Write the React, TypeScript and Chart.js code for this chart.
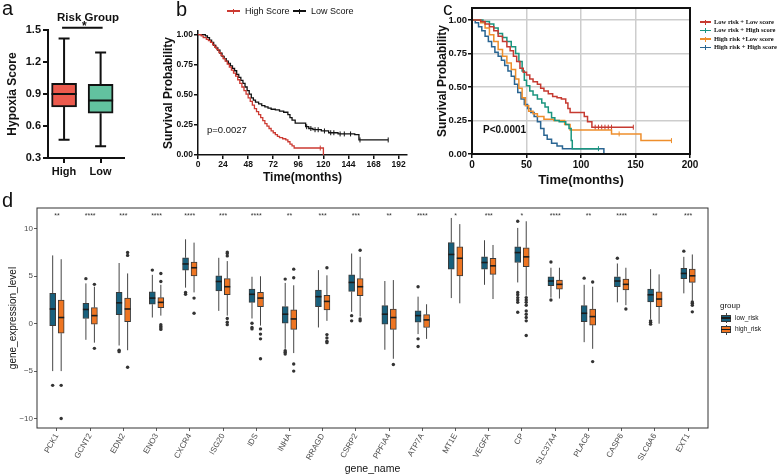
import React, { useEffect, useRef } from 'react';
import { Chart, registerables } from 'chart.js';

Chart.register(...registerables);

const SANS = "'Liberation Sans', Arial, Helvetica, sans-serif";
const SERIF = "'Liberation Serif', 'Times New Roman', serif";

// ---------------- Panel a: Hypoxia score by risk group ----------------
const riskGroups = ['High', 'Low'];
const hypoxiaMin = [0.47, 0.41];
const hypoxiaQ1 = [0.78, 0.72];
const hypoxiaMedian = [0.9, 0.84];
const hypoxiaQ3 = [1.0, 0.99];
const hypoxiaMax = [1.42, 1.29];
const hypoxiaTicks = [0.3, 0.6, 0.9, 1.2, 1.5];
const riskGroupColors = ['#EC5A4D', '#62C29F'];
const riskSigLevel = 1.52;

// ---------------- Panel b: KM by hypoxia score ----------------
const highScoreTime = [0, 3, 5, 8, 10, 12, 14, 16, 18, 20, 22, 24, 26, 28, 30, 32, 34, 36, 38, 40, 42, 44, 46, 48, 50, 52, 54, 56, 58, 60, 62, 64, 66, 68, 70, 72, 74, 76, 78, 81, 84, 86, 88, 90, 92, 120];
const highScoreSurv = [1, 0.99, 0.975, 0.96, 0.95, 0.935, 0.915, 0.895, 0.875, 0.85, 0.825, 0.80, 0.78, 0.755, 0.73, 0.705, 0.68, 0.655, 0.625, 0.595, 0.565, 0.535, 0.505, 0.475, 0.445, 0.415, 0.385, 0.36, 0.335, 0.31, 0.285, 0.26, 0.24, 0.22, 0.2, 0.185, 0.17, 0.155, 0.145, 0.135, 0.125, 0.11, 0.09, 0.075, 0.058, 0];
const highScoreCensorTime = [117];
const highScoreCensorSurv = [0.058];
const lowScoreTime = [0, 7, 9, 11, 13, 15, 17, 19, 21, 23, 25, 27, 29, 31, 33, 35, 37, 39, 41, 43, 45, 47, 49, 51, 53, 55, 58, 61, 64, 67, 70, 74, 78, 82, 86, 88, 90, 93, 103, 106, 110, 118, 125, 134, 150, 154, 182];
const lowScoreSurv = [1, 0.99, 0.975, 0.955, 0.935, 0.91, 0.89, 0.87, 0.845, 0.82, 0.8, 0.78, 0.76, 0.74, 0.72, 0.7, 0.67, 0.645, 0.62, 0.595, 0.565, 0.535, 0.505, 0.475, 0.455, 0.44, 0.425, 0.41, 0.4, 0.39, 0.38, 0.375, 0.365, 0.355, 0.335, 0.31, 0.29, 0.265, 0.235, 0.22, 0.21, 0.2, 0.185, 0.175, 0.17, 0.125, 0.125];
const lowScoreCensorTime = [104, 108, 112, 115, 121, 127, 130, 136, 140, 146, 155, 182];
const lowScoreCensorSurv = [0.235, 0.22, 0.21, 0.21, 0.2, 0.185, 0.185, 0.175, 0.175, 0.175, 0.125, 0.125];
const monthTicksB = [0, 24, 48, 72, 96, 120, 144, 168, 192];
const survTicks = [0, 0.25, 0.5, 0.75, 1];

// ---------------- Panel c: KM by risk + score ----------------
const kmGroupsC = ['Low risk + Low score', 'Low risk + High score', 'High risk +Low score', 'High risk + High score'];
const kmColorsC = ['#C63A31', '#1A957F', '#EE8E2C', '#2A6592'];
const lowLowTime = [0, 8, 12, 16, 20, 24, 28, 32, 35, 38, 41, 44, 47, 50, 53, 56, 60, 63, 66, 70, 74, 78, 82, 86, 88, 90, 103, 106, 110, 148];
const lowLowSurv = [1, 0.99, 0.97, 0.95, 0.92, 0.88, 0.84, 0.8, 0.77, 0.73, 0.69, 0.64, 0.61, 0.59, 0.56, 0.54, 0.52, 0.49, 0.47, 0.45, 0.43, 0.42, 0.41, 0.38, 0.34, 0.31, 0.28, 0.24, 0.2, 0.2];
const lowLowCensorTime = [113, 116, 119, 122, 125, 128, 148];
const lowLowCensorSurv = [0.2, 0.2, 0.2, 0.2, 0.2, 0.2, 0.2];
const lowHighTime = [0, 10, 16, 20, 24, 28, 32, 36, 40, 43, 46, 48, 50, 53, 56, 60, 64, 67, 70, 73, 76, 80, 86, 89, 91, 92, 117];
const lowHighSurv = [1, 0.99, 0.97, 0.94, 0.9, 0.87, 0.84, 0.8, 0.75, 0.69, 0.62, 0.55, 0.51, 0.47, 0.44, 0.41, 0.38, 0.35, 0.31, 0.27, 0.25, 0.24, 0.22, 0.19, 0.1, 0.04, 0.04];
const lowHighCensorTime = [116];
const lowHighCensorSurv = [0.04];
const highLowTime = [0, 8, 12, 16, 20, 24, 28, 32, 36, 40, 43, 46, 49, 52, 56, 60, 66, 75, 85, 90, 128, 155, 183];
const highLowSurv = [1, 0.98, 0.94, 0.89, 0.84, 0.78, 0.73, 0.68, 0.63, 0.56, 0.49, 0.42, 0.36, 0.32, 0.3, 0.28, 0.26, 0.25, 0.22, 0.18, 0.15, 0.1, 0.1];
const highLowCensorTime = [135, 183];
const highLowCensorSurv = [0.15, 0.1];
const highHighTime = [0, 3, 6, 9, 12, 15, 18, 21, 24, 27, 30, 33, 36, 39, 42, 45, 48, 51, 54, 57, 60, 63, 66, 69, 73, 78, 83, 121];
const highHighSurv = [1, 0.98, 0.95, 0.92, 0.88, 0.84, 0.8, 0.76, 0.73, 0.7, 0.66, 0.62, 0.58, 0.52, 0.46, 0.41, 0.37, 0.34, 0.31, 0.28, 0.24, 0.19, 0.14, 0.11, 0.08, 0.06, 0.04, 0];
const monthTicksC = [0, 50, 100, 150, 200];

// ---------------- Panel d: gene expression boxplots ----------------
const genes = ['PCK1', 'GCNT2', 'EDN2', 'ENO3', 'CXCR4', 'ISG20', 'IDS', 'INHA', 'RRAGD', 'CSRP2', 'PPFIA4', 'ATP7A', 'MT1E', 'VEGFA', 'CP', 'SLC37A4', 'PLAC8', 'CASP6', 'SLC6A6', 'EXT1'];
const significance = ['**', '****', '***', '****', '****', '***', '****', '**', '***', '***', '**', '****', '*', '***', '*', '****', '**', '****', '**', '***'];
const lowMin = [-5.0, -1.7, -2.3, 0.65, 3.8, 1.35, 0.55, -2.65, -0.4, 1.25, -2.75, -1.1, 2.7, 4.1, 4.35, 2.75, -1.95, 2.25, 0.5, 3.2];
const lowQ1 = [-0.2, 0.55, 0.95, 2.05, 5.65, 3.45, 2.25, 0.05, 1.8, 3.4, -0.05, 0.15, 5.75, 5.75, 6.45, 4.0, 0.2, 3.9, 2.3, 4.75];
const lowMedian = [1.55, 1.5, 2.2, 2.7, 6.3, 4.45, 3.1, 1.0, 2.85, 4.35, 1.0, 0.85, 7.3, 6.45, 7.5, 4.5, 1.1, 4.5, 3.05, 5.3];
const lowQ3 = [3.2, 2.15, 3.3, 3.35, 6.95, 5.05, 3.65, 1.8, 3.55, 5.15, 1.9, 1.35, 8.55, 7.05, 8.1, 4.95, 1.9, 4.95, 3.65, 5.85];
const lowMax = [7.2, 4.25, 6.4, 5.15, 8.9, 6.95, 4.95, 4.3, 5.65, 7.4, 4.5, 2.85, 11.15, 8.8, 10.1, 5.9, 4.1, 6.35, 5.75, 7.05];
const highMin = [-5.0, -2.0, -2.8, 0.85, 3.3, 0.85, -0.2, -3.1, 0.3, 0.75, -3.7, -1.6, 2.15, 2.6, 2.95, 2.65, -2.65, 1.95, 0.0, 2.4];
const highQ1 = [-1.0, -0.05, 0.2, 1.7, 5.05, 3.05, 1.8, -0.6, 1.45, 2.95, -0.6, -0.4, 5.05, 5.2, 6.0, 3.65, -0.15, 3.55, 1.8, 4.35];
const highMedian = [0.65, 0.85, 1.55, 2.25, 5.9, 3.9, 2.7, 0.5, 2.35, 3.9, 0.65, 0.4, 6.9, 6.1, 7.05, 4.15, 0.75, 4.15, 2.6, 5.05];
const highQ3 = [2.5, 1.7, 2.7, 2.75, 6.5, 4.75, 3.3, 1.45, 3.0, 4.75, 1.55, 0.95, 8.1, 6.9, 8.0, 4.6, 1.55, 4.7, 3.35, 5.75];
const highMax = [6.8, 3.9, 5.3, 4.1, 8.55, 6.6, 5.0, 4.05, 5.1, 7.05, 4.6, 2.05, 10.5, 8.3, 10.8, 5.9, 3.9, 5.9, 5.2, 7.3];
const lowOutlierGene = ['PCK1', 'GCNT2', 'EDN2', 'EDN2', 'ENO3', 'CXCR4', 'CXCR4', 'IDS', 'IDS', 'IDS', 'INHA', 'INHA', 'INHA', 'INHA', 'CSRP2', 'CSRP2', 'ATP7A', 'ATP7A', 'ATP7A', 'CP', 'CP', 'CP', 'CP', 'CP', 'CP', 'CP', 'SLC37A4', 'SLC37A4', 'PLAC8', 'CASP6', 'SLC6A6', 'SLC6A6', 'SLC6A6', 'EXT1'];
const lowOutlierValue = [-6.5, 4.75, -2.8, -2.95, 5.65, 3.3, 3.1, 0.05, -0.4, -0.55, 4.7, -2.85, -3.0, -3.2, 0.85, 0.3, 3.9, -1.6, -2.4, 10.8, 3.3, 3.05, 2.75, 2.5, 2.25, 1.2, 6.5, 2.5, 4.8, 6.9, 0.3, 0.15, -0.05, 7.65];
const highOutlierGene = ['PCK1', 'PCK1', 'GCNT2', 'GCNT2', 'EDN2', 'EDN2', 'EDN2', 'ENO3', 'ENO3', 'ENO3', 'ENO3', 'ENO3', 'ENO3', 'CXCR4', 'CXCR4', 'ISG20', 'ISG20', 'ISG20', 'ISG20', 'ISG20', 'ISG20', 'IDS', 'IDS', 'IDS', 'IDS', 'INHA', 'INHA', 'INHA', 'INHA', 'RRAGD', 'RRAGD', 'RRAGD', 'RRAGD', 'RRAGD', 'CSRP2', 'CSRP2', 'CSRP2', 'PPFIA4', 'CP', 'CP', 'CP', 'CP', 'CP', 'CP', 'CP', 'CP', 'CP', 'PLAC8', 'PLAC8', 'CASP6', 'EXT1', 'EXT1', 'EXT1', 'EXT1'];
const highOutlierValue = [-6.5, -10, 4.15, -2.6, 7.5, 7.2, -4.6, 5.3, 4.45, -0.1, -0.3, -0.45, -0.6, 2.7, 1.1, 7.55, 7.4, 7.15, 0.55, 0.15, -0.1, -0.55, -1.1, -1.6, -3.7, 5.75, 4.85, -4.25, -5.0, 5.9, -1.15, -1.5, -1.85, -2.0, 7.75, 0.5, 0.3, -4.3, 2.75, 2.5, 2.25, 1.95, 1.35, 1.0, 0.65, 0.3, -1.25, 4.4, -4.0, 1.55, 2.3, 2.15, 1.95, 1.25];
const expressionTicks = [-10, -5, 0, 5, 10];
const sigLevelD = 11.4;
const groupNames = ['low_risk', 'high_risk'];
const groupColors = ['#18607D', '#EE7522'];

// layout constants
const DODGE = 0.128;

const fixedTicks = (values: number[]) => (scale: any) => {
  scale.ticks = values.map((v) => ({ value: v }));
};
const fixedWidth = (w: number) => (scale: any) => {
  scale.width = w;
};
const fixedHeight = (h: number) => (scale: any) => {
  scale.height = h;
};
const kmPoints = (time: number[], surv: number[]) => time.map((t, i) => ({ x: t, y: surv[i] }));

// ---------------- chart configs ----------------
function configA(): any {
  const ink = '#111';
  const plugin = {
    id: 'boxA',
    afterDatasetsDraw(chart: any) {
      const { ctx } = chart;
      const y = chart.scales.y;
      const meta = chart.getDatasetMeta(0);
      const py = (v: number) => y.getPixelForValue(v);
      ctx.save();
      ctx.strokeStyle = ink;
      ctx.lineWidth = 2;
      meta.data.forEach((bar: any, i: number) => {
        const x = bar.x;
        const hw = bar.width / 2;
        const cap = 5.5;
        ctx.beginPath();
        ctx.moveTo(x, py(hypoxiaQ3[i]));
        ctx.lineTo(x, py(hypoxiaMax[i]));
        ctx.moveTo(x - cap, py(hypoxiaMax[i]));
        ctx.lineTo(x + cap, py(hypoxiaMax[i]));
        ctx.moveTo(x, py(hypoxiaQ1[i]));
        ctx.lineTo(x, py(hypoxiaMin[i]));
        ctx.moveTo(x - cap, py(hypoxiaMin[i]));
        ctx.lineTo(x + cap, py(hypoxiaMin[i]));
        ctx.moveTo(x - hw, py(hypoxiaMedian[i]));
        ctx.lineTo(x + hw, py(hypoxiaMedian[i]));
        ctx.stroke();
      });
      const x0 = meta.data[0].x;
      const x1 = meta.data[1].x;
      const ys = py(riskSigLevel);
      ctx.beginPath();
      ctx.moveTo(x0 - 2, ys);
      ctx.lineTo(x1 + 2, ys);
      ctx.stroke();
      ctx.fillStyle = ink;
      ctx.font = `bold 12px ${SANS}`;
      ctx.textAlign = 'center';
      ctx.textBaseline = 'middle';
      ctx.fillText('*', (x0 + x1) / 2 + 2, ys - 1);
      ctx.restore();
    },
  };
  return {
    type: 'bar',
    data: {
      datasets: [
        {
          data: riskGroups.map((g, i) => ({ x: i + 1, y: [hypoxiaQ1[i], hypoxiaQ3[i]] })),
          backgroundColor: riskGroupColors,
          borderColor: ink,
          borderWidth: 2,
          borderSkipped: false,
          barThickness: 25,
        },
      ],
    },
    options: {
      responsive: false,
      animation: false,
      devicePixelRatio: 1,
      layout: { padding: { left: 0, top: 30, right: 6, bottom: 0 } },
      plugins: { legend: { display: false }, tooltip: { enabled: false } },
      scales: {
        x: {
          type: 'linear',
          min: 0.56,
          max: 2.64,
          offset: false,
          afterBuildTicks: fixedTicks([1, 2]),
          afterFit: fixedHeight(24),
          ticks: {
            callback: (v: number) => riskGroups[Math.round(v) - 1],
            color: ink,
            font: { family: SANS, size: 11, weight: 'bold' },
            padding: 2,
            maxRotation: 0,
            autoSkip: false,
          },
          grid: { offset: false, drawOnChartArea: false, drawTicks: true, tickLength: 5, color: ink, lineWidth: 2 },
          border: { display: true, color: ink, width: 2 },
        },
        y: {
          min: 0.3,
          max: 1.5,
          afterBuildTicks: fixedTicks(hypoxiaTicks),
          afterFit: fixedWidth(48),
          ticks: {
            callback: (v: number) => v.toFixed(1),
            color: ink,
            font: { family: SANS, size: 11, weight: 'bold' },
            padding: 2,
          },
          grid: { drawOnChartArea: false, drawTicks: true, tickLength: 5, color: ink, lineWidth: 2 },
          border: { display: true, color: ink, width: 2 },
          title: {
            display: true,
            text: 'Hypoxia Score',
            color: ink,
            font: { family: SANS, size: 12, weight: 'bold' },
            padding: { top: 5, bottom: 0 },
          },
        },
      },
    },
    plugins: [plugin],
  };
}

function kmLine(label: string, time: number[], surv: number[], color: string, width: number) {
  return {
    type: 'line',
    label,
    data: kmPoints(time, surv),
    borderColor: color,
    backgroundColor: color,
    borderWidth: width,
    pointRadius: 0,
    stepped: 'before',
    fill: false,
  };
}
function kmCensor(time: number[], surv: number[], color: string) {
  return {
    type: 'scatter',
    data: kmPoints(time, surv),
    borderColor: color,
    backgroundColor: color,
    pointStyle: 'line',
    rotation: 90,
    pointRadius: 2.5,
    borderWidth: 1,
  };
}

function configB(): any {
  const ink = '#111';
  return {
    type: 'line',
    data: {
      datasets: [
        kmLine('High Score', highScoreTime, highScoreSurv, '#CC3A32', 1.3),
        kmLine('Low Score', lowScoreTime, lowScoreSurv, '#111111', 1.3),
        kmCensor(highScoreCensorTime, highScoreCensorSurv, '#CC3A32'),
        kmCensor(lowScoreCensorTime, lowScoreCensorSurv, '#111111'),
      ],
    },
    options: {
      responsive: false,
      animation: false,
      devicePixelRatio: 1,
      layout: { padding: { left: 0, top: 31, right: 5, bottom: 0 } },
      plugins: { legend: { display: false }, tooltip: { enabled: false } },
      scales: {
        x: {
          type: 'linear',
          min: 0,
          max: 200,
          afterBuildTicks: fixedTicks(monthTicksB),
          afterFit: fixedHeight(31),
          ticks: { color: ink, font: { family: SANS, size: 8.5, weight: 'bold' }, padding: 1, maxRotation: 0, autoSkip: false },
          grid: { drawOnChartArea: false, drawTicks: true, tickLength: 4, color: ink, lineWidth: 1.5 },
          border: { display: true, color: ink, width: 1.5 },
          title: {
            display: true,
            text: 'Time(months)',
            color: ink,
            font: { family: SANS, size: 12, weight: 'bold' },
            padding: { top: 0, bottom: 1 },
          },
        },
        y: {
          min: 0,
          max: 1.03,
          afterBuildTicks: fixedTicks(survTicks),
          afterFit: fixedWidth(38),
          ticks: { callback: (v: number) => v.toFixed(2), color: ink, font: { family: SANS, size: 8.5, weight: 'bold' }, padding: 1 },
          grid: { drawOnChartArea: false, drawTicks: true, tickLength: 4, color: ink, lineWidth: 1.5 },
          border: { display: true, color: ink, width: 1.5 },
          title: {
            display: true,
            text: 'Survival Probability',
            color: ink,
            font: { family: SANS, size: 12, weight: 'bold' },
            padding: { top: 1, bottom: 0 },
          },
        },
      },
    },
  };
}

function configC(): any {
  const ink = '#111';
  const frame = {
    id: 'frameC',
    afterDraw(chart: any) {
      const { ctx, chartArea: a } = chart;
      ctx.save();
      ctx.strokeStyle = ink;
      ctx.lineWidth = 2;
      ctx.strokeRect(a.left, a.top, a.right - a.left, a.bottom - a.top);
      ctx.restore();
    },
  };
  return {
    type: 'line',
    data: {
      datasets: [
        kmLine(kmGroupsC[0], lowLowTime, lowLowSurv, kmColorsC[0], 1.5),
        kmLine(kmGroupsC[1], lowHighTime, lowHighSurv, kmColorsC[1], 1.5),
        kmLine(kmGroupsC[2], highLowTime, highLowSurv, kmColorsC[2], 1.5),
        kmLine(kmGroupsC[3], highHighTime, highHighSurv, kmColorsC[3], 1.5),
        kmCensor(lowLowCensorTime, lowLowCensorSurv, kmColorsC[0]),
        kmCensor(lowHighCensorTime, lowHighCensorSurv, kmColorsC[1]),
        kmCensor(highLowCensorTime, highLowCensorSurv, kmColorsC[2]),
      ],
    },
    options: {
      responsive: false,
      animation: false,
      devicePixelRatio: 1,
      layout: { padding: { left: 0, top: 8, right: 10, bottom: 0 } },
      plugins: { legend: { display: false }, tooltip: { enabled: false } },
      scales: {
        x: {
          type: 'linear',
          min: 0,
          max: 200,
          afterBuildTicks: fixedTicks(monthTicksC),
          afterFit: fixedHeight(34),
          ticks: { color: ink, font: { family: SANS, size: 10, weight: 'bold' }, padding: 1, maxRotation: 0, autoSkip: false },
          grid: { drawOnChartArea: true, drawTicks: true, tickLength: 4, color: '#cdcdcd', lineWidth: 1.5, tickColor: ink, tickWidth: 1.5 },
          border: { display: true, color: ink, width: 2 },
          title: {
            display: true,
            text: 'Time(months)',
            color: ink,
            font: { family: SANS, size: 13, weight: 'bold' },
            padding: { top: 0, bottom: 0 },
          },
        },
        y: {
          min: 0,
          max: 1.09,
          afterBuildTicks: fixedTicks(survTicks),
          afterFit: fixedWidth(44),
          ticks: { callback: (v: number) => v.toFixed(2), color: ink, font: { family: SANS, size: 9.5, weight: 'bold' }, padding: 1 },
          grid: { drawOnChartArea: true, drawTicks: true, tickLength: 4, color: '#cdcdcd', lineWidth: 1.5, tickColor: ink, tickWidth: 1.5 },
          border: { display: true, color: ink, width: 2 },
          title: {
            display: true,
            text: 'Survival Probability',
            color: ink,
            font: { family: SANS, size: 12, weight: 'bold' },
            padding: { top: 7, bottom: 0 },
          },
        },
      },
    },
    plugins: [frame],
  };
}

function configD(): any {
  const boxSets = [
    { index: 0, min: lowMin, q1: lowQ1, med: lowMedian, q3: lowQ3, max: lowMax },
    { index: 1, min: highMin, q1: highQ1, med: highMedian, q3: highQ3, max: highMax },
  ];
  const plugin = {
    id: 'boxD',
    afterDatasetsDraw(chart: any) {
      const { ctx } = chart;
      const y = chart.scales.y;
      const x = chart.scales.x;
      const py = (v: number) => y.getPixelForValue(v);
      ctx.save();
      boxSets.forEach((s) => {
        const meta = chart.getDatasetMeta(s.index);
        meta.data.forEach((bar: any, i: number) => {
          const bx = bar.x;
          const hw = bar.width / 2;
          ctx.strokeStyle = '#454545';
          ctx.lineWidth = 1;
          ctx.beginPath();
          ctx.moveTo(bx, py(s.q3[i]));
          ctx.lineTo(bx, py(s.max[i]));
          ctx.moveTo(bx, py(s.q1[i]));
          ctx.lineTo(bx, py(s.min[i]));
          ctx.stroke();
          ctx.strokeStyle = '#1c1c1c';
          ctx.lineWidth = 1.6;
          ctx.beginPath();
          ctx.moveTo(bx - hw, py(s.med[i]));
          ctx.lineTo(bx + hw, py(s.med[i]));
          ctx.stroke();
        });
      });
      const a = chart.chartArea;
      ctx.strokeStyle = '#333';
      ctx.lineWidth = 1;
      ctx.strokeRect(a.left, a.top, a.right - a.left, a.bottom - a.top);
      ctx.fillStyle = '#333';
      ctx.font = `7px ${SANS}`;
      ctx.textAlign = 'center';
      ctx.textBaseline = 'middle';
      genes.forEach((g, i) => ctx.fillText(significance[i], x.getPixelForValue(i + 1), py(sigLevelD)));
      ctx.restore();
    },
  };
  const tickGrey = '#4D4D4D';
  return {
    type: 'bar',
    data: {
      datasets: [
        {
          label: groupNames[0],
          data: genes.map((g, i) => ({ x: i + 1, y: [lowQ1[i], lowQ3[i]] })),
          backgroundColor: groupColors[0],
          borderColor: '#3a3a3a',
          borderWidth: 1,
          borderSkipped: false,
          barThickness: 8.5,
          maxBarThickness: 6,
        },
        {
          label: groupNames[1],
          data: genes.map((g, i) => ({ x: i + 1, y: [highQ1[i], highQ3[i]] })),
          backgroundColor: groupColors[1],
          borderColor: '#3a3a3a',
          borderWidth: 1,
          borderSkipped: false,
          barThickness: 8.5,
          maxBarThickness: 6,
        },
        {
          type: 'scatter',
          data: lowOutlierGene.map((g, i) => ({ x: genes.indexOf(g) + 1 - DODGE, y: lowOutlierValue[i] })),
          backgroundColor: '#333',
          borderWidth: 0,
          pointRadius: 1.7,
        },
        {
          type: 'scatter',
          data: highOutlierGene.map((g, i) => ({ x: genes.indexOf(g) + 1 + DODGE, y: highOutlierValue[i] })),
          backgroundColor: '#333',
          borderWidth: 0,
          pointRadius: 1.7,
        },
      ],
    },
    options: {
      responsive: false,
      animation: false,
      devicePixelRatio: 1,
      layout: { padding: { left: 0, top: 23, right: 72, bottom: 0 } },
      plugins: { legend: { display: false }, tooltip: { enabled: false } },
      scales: {
        x: {
          type: 'linear',
          min: 0.4,
          max: 20.6,
          offset: false,
          afterBuildTicks: fixedTicks(genes.map((g, i) => i + 1)),
          afterFit: fixedHeight(47),
          ticks: {
            callback: (v: number) => genes[Math.round(v) - 1],
            color: tickGrey,
            font: { family: SANS, size: 8 },
            padding: 1,
            minRotation: 60,
            maxRotation: 60,
            autoSkip: false,
          },
          grid: { offset: false, drawOnChartArea: false, drawTicks: true, tickLength: 3, color: '#333', lineWidth: 0.8 },
          border: { display: false },
          title: {
            display: true,
            text: 'gene_name',
            color: '#111',
            font: { family: SANS, size: 10.5 },
            padding: { top: 0, bottom: 0 },
          },
        },
        y: {
          min: -11,
          max: 12.2,
          afterBuildTicks: fixedTicks(expressionTicks),
          afterFit: fixedWidth(37),
          ticks: {
            callback: (v: number) => (v < 0 ? '\u2212' + Math.abs(v) : String(v)),
            color: tickGrey,
            font: { family: SANS, size: 8 },
            padding: 1,
          },
          grid: { drawOnChartArea: false, drawTicks: true, tickLength: 3, color: '#333', lineWidth: 0.8 },
          border: { display: false },
          title: {
            display: true,
            text: 'gene_expression_level',
            color: '#111',
            font: { family: SANS, size: 10 },
            padding: { top: 7, bottom: 0 },
          },
        },
      },
    },
    plugins: [plugin],
  };
}

// ---------------- components ----------------
function ChartCanvas({ left, top, width, height, make }: any) {
  const ref = useRef<HTMLCanvasElement>(null);
  useEffect(() => {
    const chart = new Chart(ref.current as HTMLCanvasElement, make());
    return () => chart.destroy();
  }, []);
  return (
    <canvas
      ref={ref}
      width={width}
      height={height}
      style={{ position: 'absolute', left, top, width, height }}
    />
  );
}

function Txt({ x, y, size, weight, family, color, children, center }: any) {
  return (
    <div
      style={{
        position: 'absolute',
        left: x,
        top: y,
        fontSize: size,
        lineHeight: `${size}px`,
        fontWeight: weight || 'normal',
        fontFamily: family || SANS,
        color: color || '#111',
        whiteSpace: 'nowrap',
        transform: center ? 'translateX(-50%)' : undefined,
      }}
    >
      {children}
    </div>
  );
}

function KmKey({ x, y, w, color }: any) {
  return (
    <>
      <div style={{ position: 'absolute', left: x, top: y - 0.6, width: w, height: 1.3, background: color }} />
      <div style={{ position: 'absolute', left: x + w / 2 - 0.6, top: y - 2.5, width: 1.2, height: 5, background: color }} />
    </>
  );
}

function BoxKey({ x, y, color }: any) {
  return (
    <>
      <div style={{ position: 'absolute', left: x + 4.5, top: y - 1, width: 1, height: 10, background: '#454545' }} />
      <div
        style={{
          position: 'absolute',
          left: x,
          top: y + 0.5,
          width: 10,
          height: 7,
          background: color,
          border: '1px solid #3a3a3a',
          boxSizing: 'border-box',
        }}
      />
      <div style={{ position: 'absolute', left: x, top: y + 3.3, width: 10, height: 1.4, background: '#1c1c1c' }} />
    </>
  );
}

export default function App() {
  const legendRowsC = [22, 30.5, 39, 47.5];
  return (
    <div
      style={{
        position: 'absolute',
        left: 0,
        top: 0,
        width: 780,
        height: 475,
        background: '#ffffff',
        overflow: 'hidden',
        fontFamily: SANS,
      }}
    >
      <ChartCanvas left={0} top={0} width={130} height={182} make={configA} />
      <ChartCanvas left={160} top={0} width={252} height={186} make={configB} />
      <ChartCanvas left={428} top={0} width={272} height={188} make={configC} />
      <ChartCanvas left={0} top={185} width={780} height={290} make={configD} />

      {/* panel letters */}
      <Txt x={2} y={-2} size={20}>a</Txt>
      <Txt x={176} y={-1} size={20}>b</Txt>
      <Txt x={443} y={-1} size={19}>c</Txt>
      <Txt x={2} y={190} size={20}>d</Txt>

      {/* panel a */}
      <Txt x={88} y={11.5} size={11.5} weight="bold" center>
        Risk Group
      </Txt>

      {/* panel b legend + p value */}
      <KmKey x={227} y={11} w={13} color="#CC3A32" />
      <Txt x={245} y={6.6} size={9}>High Score</Txt>
      <KmKey x={293} y={11} w={13} color="#111111" />
      <Txt x={311} y={6.6} size={9}>Low Score</Txt>
      <Txt x={207} y={125.3} size={9.5}>p=0.0027</Txt>

      {/* panel c legend + p value */}
      {kmGroupsC.map((g, i) => (
        <React.Fragment key={g}>
          <KmKey x={700} y={legendRowsC[i]} w={11} color={kmColorsC[i]} />
          <Txt x={714} y={legendRowsC[i] - 3.3} size={6.5} weight="bold" family={SERIF}>
            {g}
          </Txt>
        </React.Fragment>
      ))}
      <Txt x={483} y={125} size={10} weight="bold">P&lt;0.0001</Txt>

      {/* panel d legend */}
      <Txt x={720} y={302} size={8}>group</Txt>
      <BoxKey x={721} y={314} color={groupColors[0]} />
      <Txt x={735} y={314.8} size={6.5}>{groupNames[0]}</Txt>
      <BoxKey x={721} y={325.5} color={groupColors[1]} />
      <Txt x={735} y={326.3} size={6.5}>{groupNames[1]}</Txt>
    </div>
  );
}
